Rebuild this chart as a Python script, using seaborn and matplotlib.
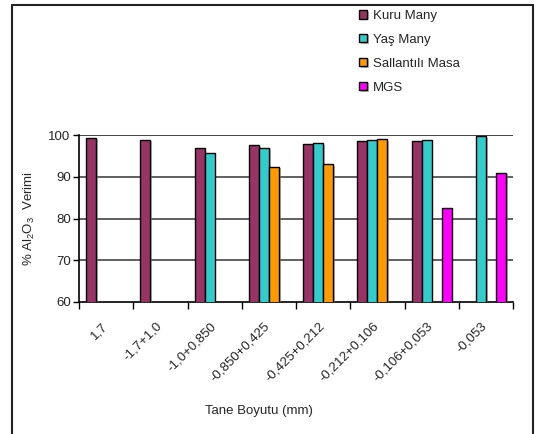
import numpy as np
import pandas as pd
import matplotlib
matplotlib.use("Agg")
import matplotlib.pyplot as plt
import matplotlib.patheffects as pe
import matplotlib.transforms as mtransforms
from matplotlib.lines import Line2D
import seaborn as sns

# Particle size fractions (mm)
sizes = ["1,7", "-1,7+1,0", "-1,0+0,850", "-0,850+0,425", "-0,425+0,212",
         "-0,212+0,106", "-0,106+0,053", "-0,053"]
methods = ["Kuru Many", "Yaş Many", "Sallantılı Masa", "MGS"]

# Al2O3 recovery (%) per method; NaN where the method was not applied
kuru_many = [99.4, 98.8, 97.0, 97.7, 97.8, 98.6, 98.6, np.nan]
yas_many = [np.nan, np.nan, 95.6, 97.0, 98.0, 98.7, 98.7, 99.7]
sallantili_masa = [np.nan, np.nan, np.nan, 92.4, 93.0, 99.0, np.nan, np.nan]
mgs = [np.nan, np.nan, np.nan, np.nan, np.nan, np.nan, 82.6, 91.0]

colors = ["#993366", "#33CCCC", "#FF9900", "#FF00FF"]

df = pd.DataFrame({
    "size": sizes * 4,
    "method": [m for m in methods for _ in sizes],
    "value": kuru_many + yas_many + sallantili_masa + mgs,
})

sns.set_theme(style="white")
plt.rcParams["font.family"] = ["Liberation Sans", "DejaVu Sans"]
plt.rcParams["mathtext.fontset"] = "custom"
plt.rcParams["mathtext.rm"] = "Liberation Sans"
plt.rcParams["mathtext.it"] = "Liberation Sans"

W, H = 536, 434
fig = plt.figure(figsize=(W / 100, H / 100), dpi=100)
fig.patch.set_facecolor("white")
ax = fig.add_axes([79 / W, 1 - 302 / H, (513 - 79) / W, (302 - 135) / H])

sns.barplot(data=df, x="size", y="value", hue="method", order=sizes,
            hue_order=methods, palette=colors, width=0.74, saturation=1,
            edgecolor="black", linewidth=1, errorbar=None, ax=ax, zorder=3)

for p in ax.patches:
    p.set_path_effects([pe.SimplePatchShadow(offset=(1.2, -1.0),
                                             shadow_rgbFace="#888888", alpha=0.6),
                        pe.Normal()])

ax.set_ylim(60, 100)
ax.set_xlim(-0.5, len(sizes) - 0.5)
ax.set_yticks([60, 70, 80, 90, 100])
ax.tick_params(axis="y", labelsize=9.5, length=4, width=1, direction="out",
               left=True, color="black", pad=2)
for y in [70, 80, 90]:
    ax.axhline(y, color="#444444", lw=1.2, zorder=1)
ax.axhline(100, color="#222222", lw=1.2, zorder=1)

ax.set_xticks(range(len(sizes)))
ax.set_xticklabels(sizes, rotation=45, ha="right", rotation_mode="anchor",
                   fontsize=9.5)
ax.tick_params(axis="x", length=0, pad=13)
shift = mtransforms.ScaledTranslation(-5 / 100, 0, fig.dpi_scale_trans)
for lab in ax.get_xticklabels():
    lab.set_transform(lab.get_transform() + shift)
ax.set_xticks(np.arange(-0.5, len(sizes)), minor=True)
ax.tick_params(axis="x", which="minor", length=5, width=1, color="black",
               bottom=True, direction="out")

for s in ["top", "right"]:
    ax.spines[s].set_visible(False)
for s in ["left", "bottom"]:
    ax.spines[s].set_color("black")
    ax.spines[s].set_linewidth(1.2)

ax.set_xlabel("")
ax.set_ylabel("% Al$_2$O$_3$  Verimi", fontsize=9.5, labelpad=8)
fig.text(259 / W, 1 - 411 / H, "Tane Boyutu (mm)", fontsize=9.5,
         ha="center", va="center")

handles, labels = ax.get_legend_handles_labels()
ax.get_legend().remove()
leg = fig.legend(handles, labels, loc="upper left",
                 bbox_to_anchor=(359 / W, 1 - 10 / H), frameon=False,
                 fontsize=9.5, handlelength=0.6, handleheight=0.6,
                 handletextpad=0.45, labelspacing=0.9, borderpad=0,
                 borderaxespad=0)

# Outer frame around the chart
frame_kw = dict(color="#222222", lw=1.5, transform=fig.transFigure)
fig.add_artist(Line2D([12 / W, 12 / W], [0, 1 - 5 / H], **frame_kw))
fig.add_artist(Line2D([12 / W, 533 / W], [1 - 5 / H, 1 - 5 / H], **frame_kw))
fig.add_artist(Line2D([533 / W, 533 / W], [0, 1 - 5 / H], **frame_kw))

fig.savefig("out.png", dpi=100, facecolor="white")
